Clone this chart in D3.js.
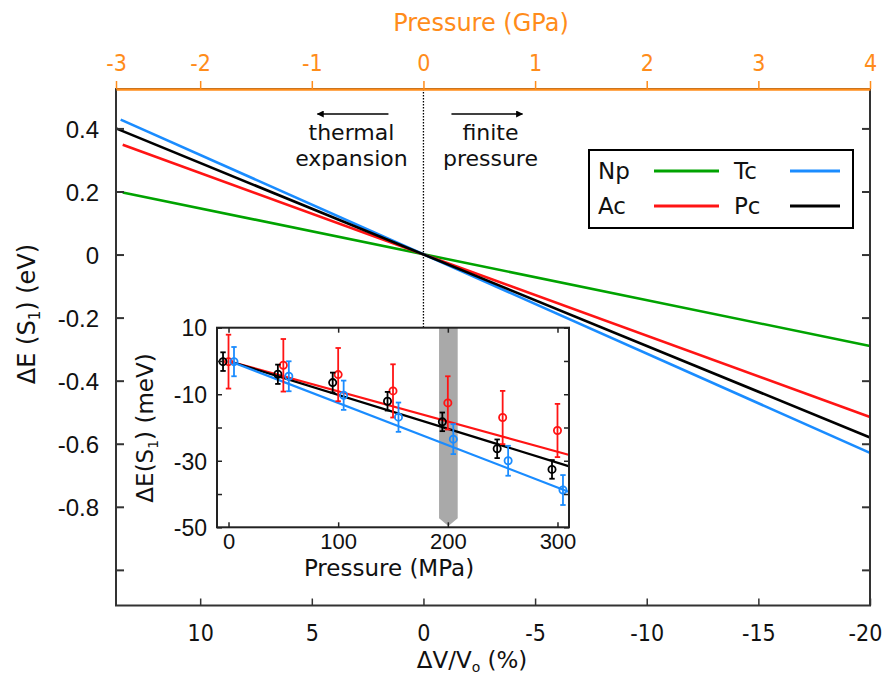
<!DOCTYPE html>
<html>
<head>
<meta charset="utf-8">
<script src="https://cdn.jsdelivr.net/npm/d3@7"></script>
<style>
  html, body { margin: 0; padding: 0; background: #fff; }
  svg { display: block; font-family: "DejaVu Sans", Verdana, sans-serif; }
  .cond { font-family: "DejaVu Sans Condensed", "DejaVu Sans", sans-serif; font-stretch: condensed; }
</style>
</head>
<body>
<svg id="chart" width="885" height="677"></svg>
<script>
// ---- Main panel: S1 energy shift versus relative volume change ----
const series = ["Np", "Ac", "Tc", "Pc"];
const seriesColors = ["#00a300", "#ff1414", "#1a8cff", "#000000"];
// end points of each computed line: dV/V0 (%) and dE (eV)
const dVNp = [13.47, -20], dENp = [0.197, -0.290];
const dVAc = [13.47, -20], dEAc = [0.348, -0.515];
const dVTc = [13.56, -20], dETc = [0.428, -0.629];
const dVPc = [13.77, -20], dEPc = [0.400, -0.580];

const volumeTicks = [10, 5, 0, -5, -10, -15, -20];
const energyTicks = [0.4, 0.2, 0, -0.2, -0.4, -0.6, -0.8, -1.0];
const energyTickLabels = ["0.4", "0.2", "0", "-0.2", "-0.4", "-0.6", "-0.8", ""];
// pressure (GPa) on the top axis and the volume change it corresponds to
const pressureTicks = [-3, -2, -1, 0, 1, 2, 3, 4];
const volumeAtPressure = [13.77, 10, 5, 0, -5, -10, -15, -20];

// ---- Inset: measured shifts under hydrostatic pressure ----
const pressureMPa = [0, 50, 100, 150, 200, 250, 300];
const insetPc = [-0.2, -4.0, -6.5, -12.1, -18.3, -26.4, -32.6];
const insetAc = [-0.2, -1.3, -4.1, -9.0, -12.6, -17.0, -20.9];
const insetTc = [-0.2, -4.6, -10.3, -16.9, -23.5, -30.0, -38.8];
const errPc = [2.8, 2.9, 3.0, 2.8, 2.8, 2.8, 2.8];
const errAc = [8.1, 7.9, 8.0, 8.0, 8.0, 8.0, 8.0];
const errTc = [4.4, 4.5, 4.4, 4.4, 4.5, 4.5, 4.5];
const fitP = [3, 310];
const fitPc = [-0.3, -31.6];
const fitAc = [-0.3, -28.2];
const fitTc = [-0.3, -39.3];
const insetXTicks = [0, 100, 200, 300];
const insetYTicks = [10, 0, -10, -20, -30, -40, -50];
const insetYLabels = ["10", "", "-10", "", "-30", "", "-50"];
const bandP = [192, 209];

const orange = "#ff8c1a";
const frameColor = "#333333";
const plain = d => String(d);   // keep ASCII hyphen for negatives

const svg = d3.select("#chart");

// scales
const plot = { left: 116, right: 870, top: 89, bottom: 605.5 };
const x = d3.scaleLinear().domain([13.77, -20]).range([plot.left, plot.right]);
const y = d3.scaleLinear().domain([0.525, -1.113]).range([plot.top, plot.bottom]);
const xp = d3.scaleLinear().domain(pressureTicks).range(volumeAtPressure.map(v => x(v)));

// dotted marker at zero volume change
svg.append("line")
  .attr("x1", x(0)).attr("x2", x(0))
  .attr("y1", plot.top).attr("y2", 330)
  .attr("stroke", "#000").attr("stroke-width", 1.3)
  .attr("stroke-dasharray", "1.5,1.5");

// main lines
const lineGen = d3.line().x(d => x(d[0])).y(d => y(d[1]));
const mainData = [
  d3.zip(dVNp, dENp), d3.zip(dVAc, dEAc), d3.zip(dVTc, dETc), d3.zip(dVPc, dEPc)
];
svg.append("g").selectAll("path")
  .data(mainData)
  .join("path")
  .attr("d", lineGen)
  .attr("fill", "none")
  .attr("stroke", (d, i) => seriesColors[i])
  .attr("stroke-width", 2.6);

// frame
svg.append("rect")
  .attr("x", plot.left).attr("y", plot.top)
  .attr("width", plot.right - plot.left).attr("height", plot.bottom - plot.top)
  .attr("fill", "none").attr("stroke", frameColor).attr("stroke-width", 2);

// left axis
const yAxis = d3.axisLeft(y).tickValues(energyTicks)
  .tickFormat((d, i) => energyTickLabels[i]).tickSizeInner(-8).tickSizeOuter(0).tickPadding(17);
const gy = svg.append("g").attr("transform", `translate(${plot.left},0)`).call(yAxis);
gy.select(".domain").remove();
gy.selectAll("line").attr("stroke", frameColor).attr("stroke-width", 2);
gy.selectAll("text").attr("font-size", 24).attr("fill", "#111").attr("dy", "0.36em");

// right axis (mirror ticks)
const gyr = svg.append("g").attr("transform", `translate(${plot.right},0)`)
  .call(d3.axisRight(y).tickValues(energyTicks).tickFormat("").tickSizeInner(-8).tickSizeOuter(0));
gyr.select(".domain").remove();
gyr.selectAll("line").attr("stroke", frameColor).attr("stroke-width", 2);

// bottom axis
const gx = svg.append("g").attr("transform", `translate(0,${plot.bottom})`)
  .call(d3.axisBottom(x).tickValues(volumeTicks).tickFormat(plain)
    .tickSizeInner(-7).tickSizeOuter(0).tickPadding(19));
gx.select(".domain").remove();
gx.selectAll("line").attr("stroke", frameColor).attr("stroke-width", 1.5);
gx.selectAll("text").attr("class", "cond").attr("font-size", 23).attr("fill", "#111");
gx.selectAll(".tick:last-of-type text").attr("dx", -5);

// top axis (pressure)
const gt = svg.append("g").attr("transform", `translate(0,${plot.top})`)
  .call(d3.axisTop(xp).tickValues(pressureTicks).tickFormat(plain)
    .tickSizeInner(8).tickSizeOuter(0).tickPadding(10));
gt.select(".domain").attr("stroke", orange).attr("stroke-width", 2.5);
gt.selectAll("line").attr("stroke", orange).attr("stroke-width", 1.5);
gt.selectAll("text").attr("class", "cond").attr("font-size", 23).attr("fill", orange);

// axis titles
svg.append("text").attr("x", 481).attr("y", 31).attr("text-anchor", "middle")
  .attr("font-size", 24).attr("fill", orange).text("Pressure (GPa)");
const xt = svg.append("text").attr("x", 472).attr("y", 668).attr("text-anchor", "middle")
  .attr("font-size", 23).attr("fill", "#111");
xt.append("tspan").text("ΔV/V");
xt.append("tspan").attr("font-size", 14).attr("dy", 4).text("o");
xt.append("tspan").attr("dy", -4).text(" (%)");
const yt = svg.append("text").attr("transform", "translate(35,314) rotate(-90)")
  .attr("text-anchor", "middle").attr("font-size", 24).attr("fill", "#111");
yt.append("tspan").text("ΔE (S");
yt.append("tspan").attr("font-size", 15).attr("dy", 5).text("1");
yt.append("tspan").attr("dy", -5).text(") (eV)");

// annotations with arrows
const defs = svg.append("defs");
defs.append("marker").attr("id", "arrowhead")
  .attr("viewBox", "0 0 10 10").attr("refX", 9).attr("refY", 5)
  .attr("markerWidth", 9).attr("markerHeight", 7).attr("markerUnits", "userSpaceOnUse")
  .attr("orient", "auto")
  .append("path").attr("d", "M0,0 L10,5 L0,10 Z").attr("fill", "#000");

svg.append("line").attr("x1", x(0) - 35).attr("x2", x(0) - 106).attr("y1", 114).attr("y2", 114)
  .attr("stroke", "#000").attr("stroke-width", 1.6).attr("marker-end", "url(#arrowhead)");
svg.append("line").attr("x1", x(0) + 28).attr("x2", x(0) + 99).attr("y1", 114).attr("y2", 114)
  .attr("stroke", "#000").attr("stroke-width", 1.6).attr("marker-end", "url(#arrowhead)");
const ann = svg.append("g").attr("font-size", 22).attr("fill", "#111").attr("text-anchor", "middle");
ann.append("text").attr("x", x(0) - 72).attr("y", 140).text("thermal");
ann.append("text").attr("x", x(0) - 72).attr("y", 166).text("expansion");
ann.append("text").attr("x", x(0) + 67).attr("y", 140).text("finite");
ann.append("text").attr("x", x(0) + 67).attr("y", 166).text("pressure");

// legend
const legend = svg.append("g");
legend.append("rect").attr("x", 589).attr("y", 150).attr("width", 264).attr("height", 78)
  .attr("fill", "#fff").attr("stroke", "#000").attr("stroke-width", 2);
const legendOrder = [0, 2, 1, 3]; // Np, Tc / Ac, Pc
legendOrder.forEach((si, k) => {
  const col = k % 2, row = Math.floor(k / 2);
  const gx0 = 598 + col * 136, gy0 = 171 + row * 35;
  legend.append("text").attr("x", gx0).attr("y", gy0 + 8).attr("font-size", 23)
    .attr("fill", "#111").text(series[si]);
  legend.append("line").attr("x1", gx0 + 56).attr("x2", gx0 + 121 - col * 15)
    .attr("y1", gy0).attr("y2", gy0)
    .attr("stroke", seriesColors[si]).attr("stroke-width", 3);
});

// ---- inset ----
const ins = { left: 217, right: 569, top: 327.7, bottom: 527.3 };
const ix = d3.scaleLinear().domain([-10.5, 310.5]).range([ins.left, ins.right]);
const iy = d3.scaleLinear().domain([10, -50]).range([ins.top, ins.bottom]);

svg.append("rect").attr("x", ins.left).attr("y", ins.top)
  .attr("width", ins.right - ins.left).attr("height", ins.bottom - ins.top)
  .attr("fill", "#fff");

// grey band marking the chosen pressure
const bandTop = 10, bandBody = -47.3, bandTip = -49.6;
svg.append("path")
  .attr("d", d3.line()([
    [ix(bandP[0]), iy(bandTop)], [ix(bandP[1]), iy(bandTop)],
    [ix(bandP[1]), iy(bandBody)], [ix((bandP[0] + bandP[1]) / 2), iy(bandTip)],
    [ix(bandP[0]), iy(bandBody)]
  ]) + "Z")
  .attr("fill", "#a9a9a9");

// fitted lines
const insetLine = d3.line().x(d => ix(d[0])).y(d => iy(d[1]));
const insetSeries = [
  { vals: insetAc, err: errAc, fit: fitAc, color: seriesColors[1], dodge: 0 },
  { vals: insetPc, err: errPc, fit: fitPc, color: seriesColors[3], dodge: -5 },
  { vals: insetTc, err: errTc, fit: fitTc, color: seriesColors[2], dodge: 5 }
];
insetSeries.forEach(s => {
  svg.append("path").attr("d", insetLine(d3.zip(fitP, s.fit)))
    .attr("fill", "none").attr("stroke", s.color).attr("stroke-width", 2.2);
});
insetSeries.forEach(s => {
  const g = svg.append("g").attr("stroke", s.color).attr("fill", "none").attr("stroke-width", 1.8);
  pressureMPa.forEach((p, i) => {
    const cx = ix(p + s.dodge);
    const y1 = iy(s.vals[i] + s.err[i]), y2 = iy(s.vals[i] - s.err[i]);
    g.append("line").attr("x1", cx).attr("x2", cx).attr("y1", y1).attr("y2", y2);
    g.append("line").attr("x1", cx - 2.7).attr("x2", cx + 2.7).attr("y1", y1).attr("y2", y1);
    g.append("line").attr("x1", cx - 2.7).attr("x2", cx + 2.7).attr("y1", y2).attr("y2", y2);
    g.append("circle").attr("cx", cx).attr("cy", iy(s.vals[i])).attr("r", 3.6);
  });
});

// inset frame and axes
svg.append("rect").attr("x", ins.left).attr("y", ins.top)
  .attr("width", ins.right - ins.left).attr("height", ins.bottom - ins.top)
  .attr("fill", "none").attr("stroke", "#222").attr("stroke-width", 2);

const iya = svg.append("g").attr("transform", `translate(${ins.left},0)`)
  .call(d3.axisLeft(iy).tickValues(insetYTicks).tickFormat((d, i) => insetYLabels[i])
    .tickSizeInner(-5).tickSizeOuter(0).tickPadding(10));
iya.select(".domain").remove();
iya.selectAll("line").attr("stroke", "#222").attr("stroke-width", 1.5);
iya.selectAll("text").attr("font-size", 23).attr("fill", "#111").attr("dy", "0.36em");

const iyr = svg.append("g").attr("transform", `translate(${ins.right},0)`)
  .call(d3.axisRight(iy).tickValues(insetYTicks).tickFormat("").tickSizeInner(-5).tickSizeOuter(0));
iyr.select(".domain").remove();
iyr.selectAll("line").attr("stroke", "#222").attr("stroke-width", 1.5);

const ixa = svg.append("g").attr("transform", `translate(0,${ins.bottom})`)
  .call(d3.axisBottom(ix).tickValues(insetXTicks).tickFormat(plain)
    .tickSizeInner(-5).tickSizeOuter(0).tickPadding(6));
ixa.select(".domain").remove();
ixa.selectAll("line").attr("stroke", "#222").attr("stroke-width", 1.5);
ixa.selectAll("text").attr("font-size", 22).attr("fill", "#111");

const ixt = svg.append("g").attr("transform", `translate(0,${ins.top})`)
  .call(d3.axisTop(ix).tickValues(insetXTicks).tickFormat("").tickSizeInner(-5).tickSizeOuter(0));
ixt.select(".domain").remove();
ixt.selectAll("line").attr("stroke", "#222").attr("stroke-width", 1.5);

svg.append("text").attr("x", 389).attr("y", 576).attr("text-anchor", "middle")
  .attr("font-size", 23).attr("fill", "#111").text("Pressure (MPa)");
const iyt = svg.append("text").attr("transform", "translate(153,428) rotate(-90)")
  .attr("text-anchor", "middle").attr("font-size", 23).attr("fill", "#111");
iyt.append("tspan").text("ΔE(S");
iyt.append("tspan").attr("font-size", 14).attr("dy", 5).text("1");
iyt.append("tspan").attr("dy", -5).text(") (meV)");
</script>
</body>
</html>
